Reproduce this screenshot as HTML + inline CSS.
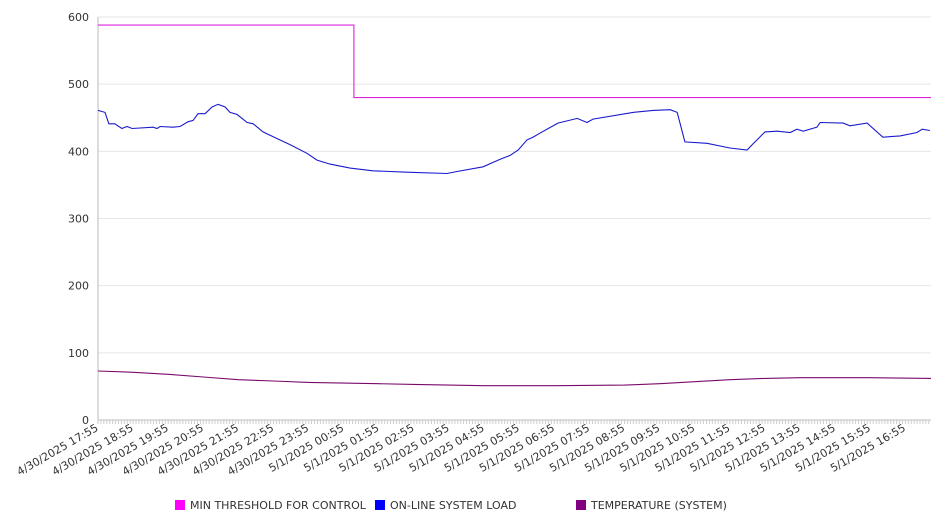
<!DOCTYPE html>
<html><head><meta charset="utf-8"><style>
body{margin:0;background:#fff;font-family:"DejaVu Sans","Liberation Sans",sans-serif}
svg text{font-family:"DejaVu Sans","Liberation Sans",sans-serif;fill:#333}
</style></head><body>
<svg id="chart" width="946" height="526" xmlns="http://www.w3.org/2000/svg"></svg>
<script>
const tickLabels=["4/30/2025 17:55","4/30/2025 18:55","4/30/2025 19:55","4/30/2025 20:55","4/30/2025 21:55","4/30/2025 22:55","4/30/2025 23:55","5/1/2025 00:55","5/1/2025 01:55","5/1/2025 02:55","5/1/2025 03:55","5/1/2025 04:55","5/1/2025 05:55","5/1/2025 06:55","5/1/2025 07:55","5/1/2025 08:55","5/1/2025 09:55","5/1/2025 10:55","5/1/2025 11:55","5/1/2025 12:55","5/1/2025 13:55","5/1/2025 14:55","5/1/2025 15:55","5/1/2025 16:55"];
const yTicks=[0,100,200,300,400,500,600];
const loadHours=[0,0.2,0.31,0.48,0.68,0.83,0.97,1.57,1.68,1.77,2.14,2.34,2.56,2.71,2.85,3.05,3.25,3.42,3.62,3.76,3.96,4.25,4.42,4.7,5.18,5.47,5.95,6.24,6.61,7.18,7.83,8.8,9.94,10.23,10.97,11.45,11.74,11.97,12.22,12.39,12.59,13.1,13.65,13.93,14.1,15.24,15.81,16.3,16.5,16.72,17.35,18.0,18.49,18.66,19.0,19.35,19.72,19.91,20.09,20.48,20.57,21.23,21.42,21.91,22.36,22.85,23.33,23.48,23.7];
const loadValues=[461,458,441,441,434,437,434,436,434,437,436,437,444,446,456,456,466,470,466,458,455,443,441,429,417,410,397,387,381,375,371,369,367,370,377,388,394,402,417,421,427,442,449,443,448,458,461,462,458,414,412,405,402,411,429,430,428,433,430,436,443,442,438,442,421,423,428,433,431];
const thrHours=[0,7.29,7.29,23.73];
const thrValues=[588,588,480,480];
const tempHours=[0,1,2,3,4,5,6,7,8,9,10,11,13,15,16,17,18,19,20,21,22,23.73];
const tempValues=[73,71,68,64,60,58,56,55,54,53,52,51,51,52,54,57,60,62,63,63,63,62];
const X0=98,X1=931,Y0=420,Y1=17,HMAX=23.73,VMAX=600;
const xs=h=>X0+h/HMAX*(X1-X0);
const ys=v=>Y0-v/VMAX*(Y0-Y1);
const svg=document.getElementById('chart');
const NS='http://www.w3.org/2000/svg';
function mk(t,a,p){const e=document.createElementNS(NS,t);for(const k in a)e.setAttribute(k,a[k]);(p||svg).appendChild(e);return e;}
yTicks.forEach(v=>{
 const g=mk('line',{x1:X0,x2:X1,y1:ys(v),y2:ys(v),stroke:v===0?'#bbb':'#e6e6e6','stroke-width':1});
 
 
 const t=mk('text',{x:X0-9,y:ys(v)+4,'text-anchor':'end','font-size':11});
 t.textContent=v;
 
 
});
const ax=mk('line',{x1:X0,x2:X0,y1:Y1,y2:Y0,stroke:'#bbb'});


for(let i=0;i<=HMAX*12;i++){
 const x=xs(i/12);
 const tk=mk('line',{x1:x,x2:x,y1:Y0,y2:Y0+4,stroke:'#ccc'});
 
 
}
tickLabels.forEach((l,i)=>{
 const x=xs(i)+1,y=Y0+10;
 const t=mk('text',{x:x,y:y,'text-anchor':'end','font-size':11,transform:`rotate(-30 ${x} ${y})`});
 t.textContent=l;
 
 
});
function series(h,v,c,name){
 const d=h.map((hh,i)=>(i?'L':'M')+xs(hh).toFixed(1)+','+ys(v[i]).toFixed(1)).join('');
 const p=mk('path',{d:d,fill:'none',stroke:c,'stroke-width':1.1});
 
 
}
series(thrHours,thrValues,'#dd22dd','min-threshold-line');
series(loadHours,loadValues,'#1a1acc','online-system-load-line');
series(tempHours,tempValues,'#7a0a6a','temperature-line');
const leg=[["MIN THRESHOLD FOR CONTROL","#ff00ff",175],["ON-LINE SYSTEM LOAD","#0000ff",375],["TEMPERATURE (SYSTEM)","#800080",576]];
leg.forEach(([l,c,x])=>{
 const g=mk('g',{});
 
 
 mk('rect',{x:x,y:500,width:10,height:10,fill:c},g);
 const t=mk('text',{x:x+15,y:509,'font-size':11},g);
 t.textContent=l;
});
</script>
</body></html>
